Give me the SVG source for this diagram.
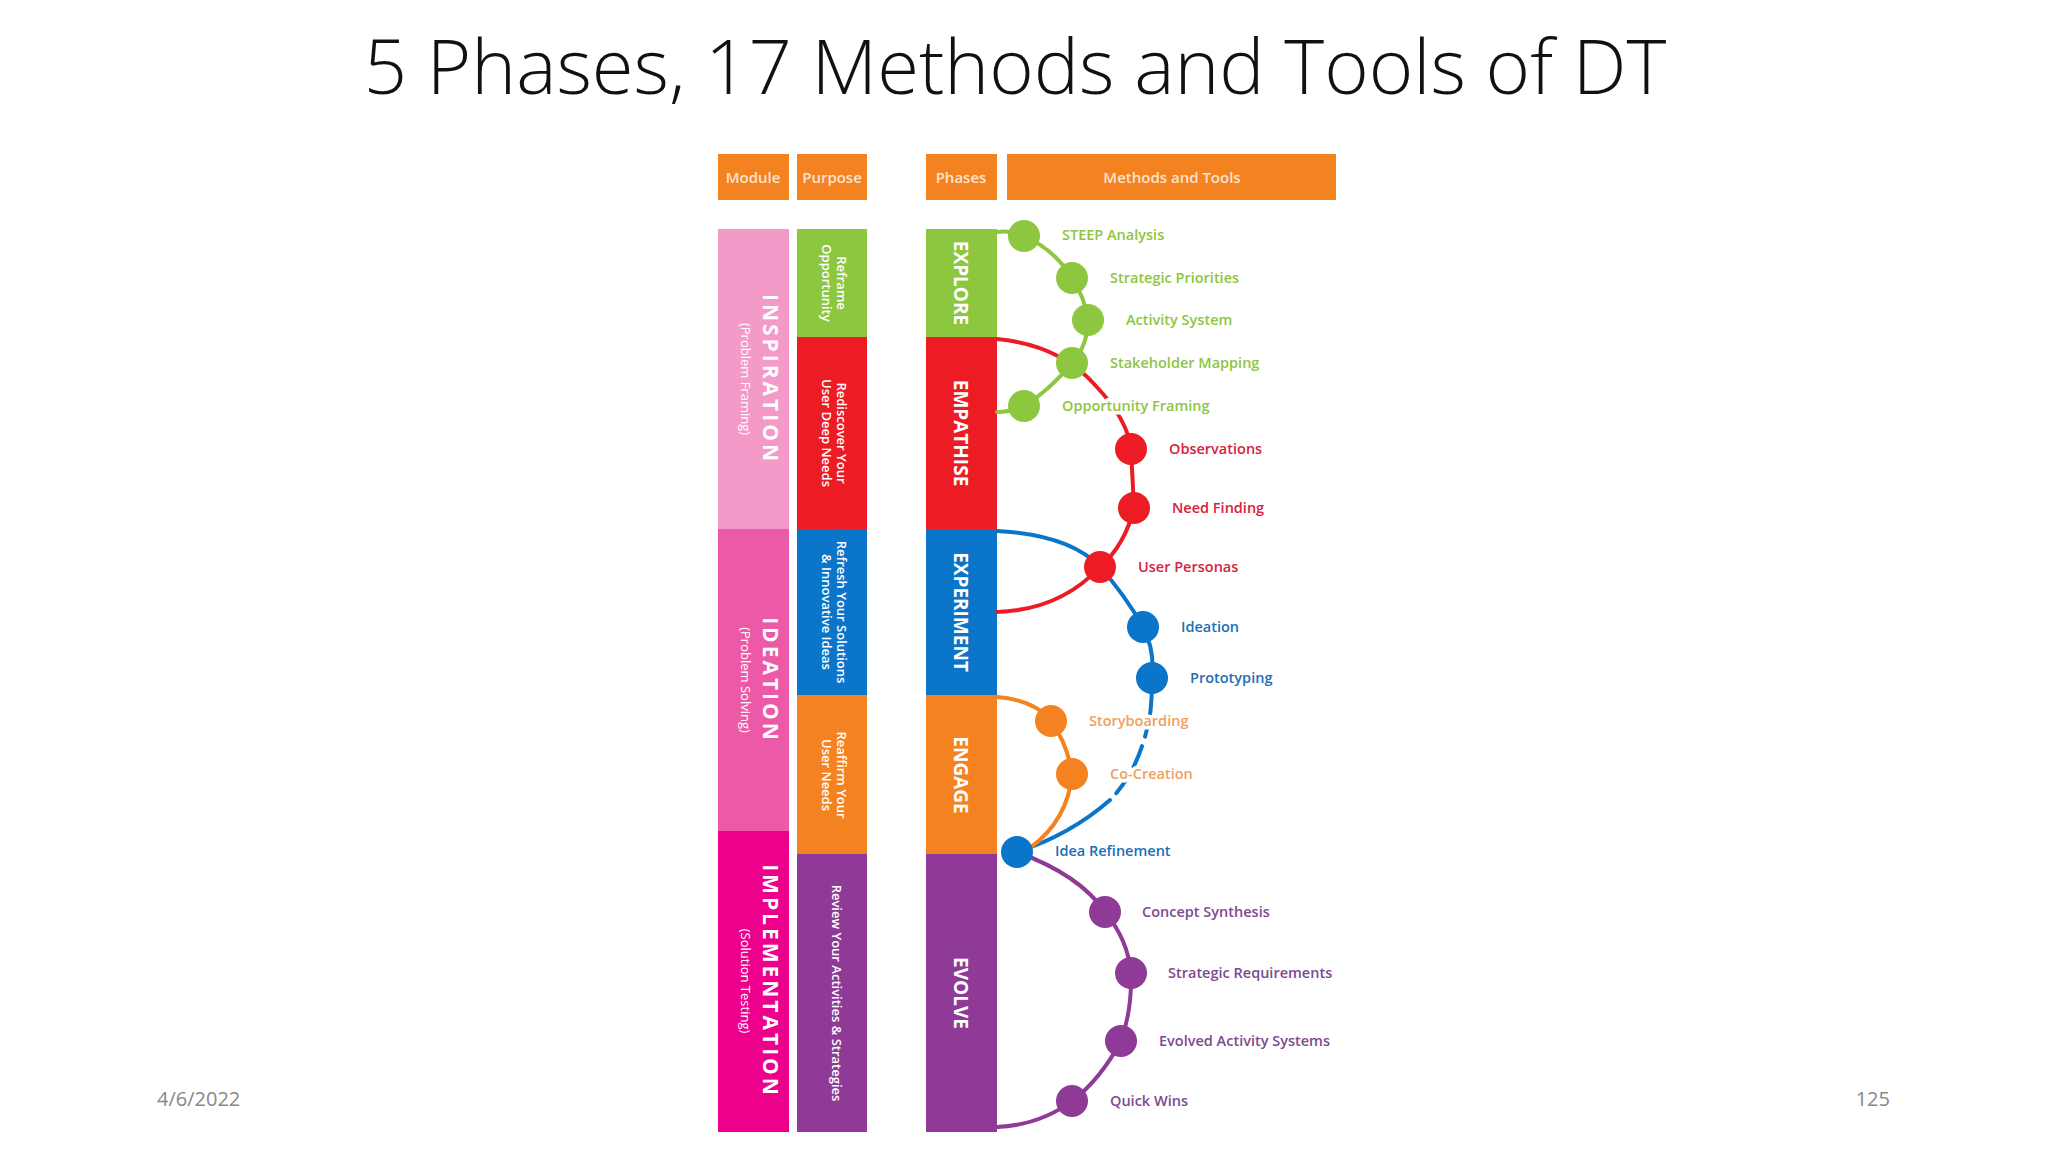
<svg xmlns="http://www.w3.org/2000/svg" width="2048" height="1152" viewBox="0 0 2048 1152">
<style>
.t{font-family:"Open Sans","Liberation Sans",sans-serif}
.hd{font-family:"Open Sans","Liberation Sans",sans-serif;font-size:15px;font-weight:600;fill:#fde3cc;text-anchor:middle}
.m{font-family:"Open Sans","Liberation Sans",sans-serif;font-size:14.5px;font-weight:600;stroke:#fff;stroke-width:7px;paint-order:stroke;stroke-linejoin:round}
.v{font-family:"Open Sans","Liberation Sans",sans-serif;text-anchor:middle;fill:#fff}
.ln{fill:none;stroke-width:4;stroke-linecap:round}
</style>
<rect width="2048" height="1152" fill="#fff"/>
<text class="t" x="1015" y="94" font-size="76" font-weight="300" text-anchor="middle" fill="#111">5 Phases, 17 Methods and Tools of DT</text>
<text class="t" x="157" y="1106" font-size="20" fill="#888">4/6/2022</text>
<text class="t" x="1890" y="1106" font-size="20" fill="#888" text-anchor="end">125</text>

<g id="headers">
<rect x="718" y="154" width="71" height="46" fill="#F58220"/><text class="hd" x="753" y="183">Module</text>
<rect x="797" y="154" width="70" height="46" fill="#F58220"/><text class="hd" x="832" y="183">Purpose</text>
<rect x="926" y="154" width="71" height="46" fill="#F58220"/><text class="hd" x="961" y="183">Phases</text>
<rect x="1007" y="154" width="329" height="46" fill="#F58220"/><text class="hd" x="1172" y="183">Methods and Tools</text>
</g>

<g id="modules">
<rect x="718" y="229" width="71" height="300" fill="#F49AC8"/>
<rect x="718" y="529" width="71" height="302" fill="#EC5AA7"/>
<rect x="718" y="831" width="71" height="301" fill="#EC008C"/>
<g transform="translate(763,379) rotate(90)"><text class="v" font-size="21" font-weight="700" letter-spacing="3" fill="#fde">INSPIRATION</text><text class="v" y="22" font-size="13" fill="#fde">(Problem Framing)</text></g>
<g transform="translate(763,680) rotate(90)"><text class="v" font-size="21" font-weight="700" letter-spacing="3">IDEATION</text><text class="v" y="22" font-size="13">(Problem Solving)</text></g>
<g transform="translate(763,981) rotate(90)"><text class="v" font-size="21" font-weight="700" letter-spacing="3">IMPLEMENTATION</text><text class="v" y="22" font-size="13">(Solution Testing)</text></g>
</g>

<g id="purposes">
<rect x="797" y="229" width="70" height="108" fill="#8DC63F"/>
<rect x="797" y="337" width="70" height="192" fill="#ED1C24"/>
<rect x="797" y="529" width="70" height="166" fill="#0B75C9"/>
<rect x="797" y="695" width="70" height="159" fill="#F58220"/>
<rect x="797" y="854" width="70" height="278" fill="#8E3A96"/>
<g transform="translate(837,283) rotate(90)"><text class="v" font-size="13" font-weight="600">Reframe</text><text class="v" y="15" font-size="13" font-weight="600">Opportunity</text></g>
<g transform="translate(837,433) rotate(90)"><text class="v" font-size="13" font-weight="600">Rediscover Your</text><text class="v" y="15" font-size="13" font-weight="600">User Deep Needs</text></g>
<g transform="translate(837,612) rotate(90)"><text class="v" font-size="13" font-weight="600">Refresh Your Solutions</text><text class="v" y="15" font-size="13" font-weight="600">&amp; Innovative Ideas</text></g>
<g transform="translate(837,775) rotate(90)"><text class="v" font-size="13" font-weight="600">Reaffirm Your</text><text class="v" y="15" font-size="13" font-weight="600">User Needs</text></g>
<g transform="translate(832,993) rotate(90)"><text class="v" font-size="13" font-weight="600">Review Your Activities &amp; Strategies</text></g>
</g>

<g id="phases">
<rect x="926" y="229" width="71" height="108" fill="#8DC63F"/>
<rect x="926" y="337" width="71" height="192" fill="#ED1C24"/>
<rect x="926" y="529" width="71" height="166" fill="#0B75C9"/>
<rect x="926" y="695" width="71" height="159" fill="#F58220"/>
<rect x="926" y="854" width="71" height="278" fill="#8E3A96"/>
<g transform="translate(954,283) rotate(90)"><text class="v" font-size="19" font-weight="700">EXPLORE</text></g>
<g transform="translate(954,433) rotate(90)"><text class="v" font-size="19" font-weight="700">EMPATHISE</text></g>
<g transform="translate(954,612) rotate(90)"><text class="v" font-size="19" font-weight="700">EXPERIMENT</text></g>
<g transform="translate(954,775) rotate(90)"><text class="v" font-size="19" font-weight="700">ENGAGE</text></g>
<g transform="translate(954,993) rotate(90)"><text class="v" font-size="19" font-weight="700">EVOLVE</text></g>
</g>

<g id="connectors">
<path class="ln" stroke="#ED1C24" d="M997,339 Q1060,345 1095,385 Q1128,420 1131,449 L1134,508 Q1125,545 1100,567 Q1060,610 997,612"/>
<path class="ln" stroke="#8DC63F" d="M997,232 Q1010,230 1024,236 Q1055,250 1072,278 Q1085,298 1088,320 Q1088,345 1072,363 Q1050,390 1024,406 Q1010,412 997,412"/>
<path class="ln" stroke="#0B75C9" d="M997,531 Q1070,535 1100,567 Q1125,595 1143,627 Q1155,650 1152,678 Q1152,700 1150,715"/>
<path class="ln" stroke="#0B75C9" stroke-dasharray="22,10" d="M1150,715 Q1140,770 1110,800"/>
<path class="ln" stroke="#0B75C9" d="M1110,800 Q1070,835 1017,852"/>
<path class="ln" stroke="#F58220" d="M997,697 Q1035,700 1051,721 Q1068,745 1072,774 Q1068,820 1030,848 L1017,852"/>
<path class="ln" stroke="#8E3A96" d="M1017,852 Q1080,875 1105,912 Q1128,940 1131,973 Q1132,1010 1121,1041 Q1100,1080 1072,1101 Q1040,1125 997,1127"/>
</g>

<g id="methods">
<g fill="#8DC63F"><circle cx="1024" cy="236" r="16"/><circle cx="1072" cy="278" r="16"/><circle cx="1088" cy="320" r="16"/><circle cx="1072" cy="363" r="16"/><circle cx="1024" cy="406" r="16"/></g>
<g fill="#ED1C24"><circle cx="1131" cy="449" r="16"/><circle cx="1134" cy="508" r="16"/><circle cx="1100" cy="567" r="16"/></g>
<g fill="#0B75C9"><circle cx="1143" cy="627" r="16"/><circle cx="1152" cy="678" r="16"/><circle cx="1017" cy="852" r="16"/></g>
<g fill="#F58220"><circle cx="1051" cy="721" r="16"/><circle cx="1072" cy="774" r="16"/></g>
<g fill="#8E3A96"><circle cx="1105" cy="912" r="16"/><circle cx="1131" cy="973" r="16"/><circle cx="1121" cy="1041" r="16"/><circle cx="1072" cy="1101" r="16"/></g>
<g class="m" fill="#8DC63F"><text x="1062" y="240">STEEP Analysis</text><text x="1110" y="283">Strategic Priorities</text><text x="1126" y="325">Activity System</text><text x="1110" y="368">Stakeholder Mapping</text><text x="1062" y="411">Opportunity Framing</text></g>
<g class="m" fill="#D8213B"><text x="1169" y="454">Observations</text><text x="1172" y="513">Need Finding</text><text x="1138" y="572">User Personas</text></g>
<g class="m" fill="#1A6FB8"><text x="1181" y="632">Ideation</text><text x="1190" y="683">Prototyping</text><text x="1055" y="856">Idea Refinement</text></g>
<g class="m" fill="#F0A060"><text x="1089" y="726">Storyboarding</text><text x="1110" y="779">Co-Creation</text></g>
<g class="m" fill="#7E4A8E"><text x="1142" y="917">Concept Synthesis</text><text x="1168" y="978">Strategic Requirements</text><text x="1159" y="1046">Evolved Activity Systems</text><text x="1110" y="1106">Quick Wins</text></g>
</g>
</svg>
